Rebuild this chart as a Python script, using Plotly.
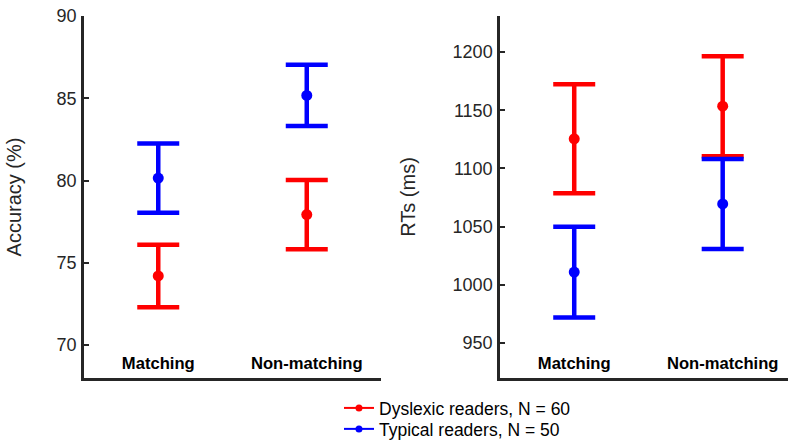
import plotly.graph_objects as go

categories = ["Matching", "Non-matching"]
x_pos = [1, 2]

acc_dyslexic = [74.2, 77.93]
acc_dyslexic_err = [1.9, 2.1]
acc_typical = [80.15, 85.17]
acc_typical_err = [2.1, 1.86]

rt_dyslexic = [1125.5, 1153.5]
rt_dyslexic_err = [46.8, 43.0]
rt_typical = [1011.0, 1069.5]
rt_typical_err = [39.0, 38.6]

acc_ticks = [70, 75, 80, 85, 90]
rt_ticks = [950, 1000, 1050, 1100, 1150, 1200]

names = ["Dyslexic readers, N = 60", "Typical readers, N = 50"]
RED = "#ff0000"
BLUE = "#0000ff"
AX = "#262626"
FONT = "Liberation Sans, Arial, Helvetica, sans-serif"

fig = go.Figure()


def add_series(xa, ya, y, err, color):
    fig.add_trace(go.Scatter(
        x=x_pos, y=y, mode="markers", xaxis=xa, yaxis=ya,
        marker=dict(color=color, size=11, symbol="circle"),
        error_y=dict(type="data", array=err, visible=True, color=color,
                     thickness=4.5, width=21),
        showlegend=False, hoverinfo="x+y",
    ))


add_series("x", "y", acc_dyslexic, acc_dyslexic_err, RED)
add_series("x", "y", acc_typical, acc_typical_err, BLUE)
add_series("x2", "y2", rt_dyslexic, rt_dyslexic_err, RED)
add_series("x2", "y2", rt_typical, rt_typical_err, BLUE)

# legend entries (one legend box per row)
for name, color, leg in zip(names, [RED, BLUE], ["legend", "legend2"]):
    fig.add_trace(go.Scatter(
        x=[None], y=[None], mode="lines+markers", name=name,
        line=dict(color=color, width=2), marker=dict(color=color, size=7),
        xaxis="x", yaxis="y", legend=leg,
    ))

xaxis_common = dict(
    tickvals=x_pos, ticktext=[f"<b>{c}</b>" for c in categories],
    ticks="", ticklabelposition="inside", ticklabelstandoff=6,
    showline=True, linecolor=AX, linewidth=2.5, showgrid=False, zeroline=False,
    tickfont=dict(size=16.6, color="#000000", family=FONT),
    automargin=False, fixedrange=True,
)
yaxis_common = dict(
    ticks="inside", ticklen=5, tickwidth=1.5, tickcolor=AX,
    showline=True, linecolor=AX, linewidth=2.5, showgrid=False, zeroline=False,
    tickfont=dict(size=18, color=AX, family=FONT),
    ticklabelstandoff=1, automargin=False,
)

legend_common = dict(
    x=0.3622, xanchor="left", yanchor="middle",
    font=dict(size=17.5, color="#000000", family=FONT),
    bgcolor="rgba(0,0,0,0)", borderwidth=0, itemwidth=30,
)

fig.update_layout(
    template="none",
    width=788, height=442,
    margin=dict(l=84, r=0, t=16, b=64, autoexpand=False),
    paper_bgcolor="white", plot_bgcolor="white",
    font=dict(family=FONT, color=AX),
    xaxis=dict(domain=[0, 0.4219], range=[0.5, 2.5], anchor="y", **xaxis_common),
    xaxis2=dict(domain=[0.5909, 1.0], range=[0.5, 2.44], anchor="y2", **xaxis_common),
    yaxis=dict(range=[68, 90], tickvals=acc_ticks, anchor="x",
               title=dict(text="Accuracy (%)", font=dict(size=20, color=AX), standoff=30),
               **yaxis_common),
    yaxis2=dict(range=[920, 1231], tickvals=rt_ticks, anchor="x2",
                title=dict(text="RTs (ms)", font=dict(size=20, color=AX), standoff=32),
                **yaxis_common),
    legend=dict(y=-0.083, **legend_common),
    legend2=dict(y=-0.1409, **legend_common),
    showlegend=True,
)

fig.write_html(
    "out.html",
    config={"displayModeBar": False},
    post_script="document.body.style.margin='0';document.body.style.overflow='hidden';",
)
